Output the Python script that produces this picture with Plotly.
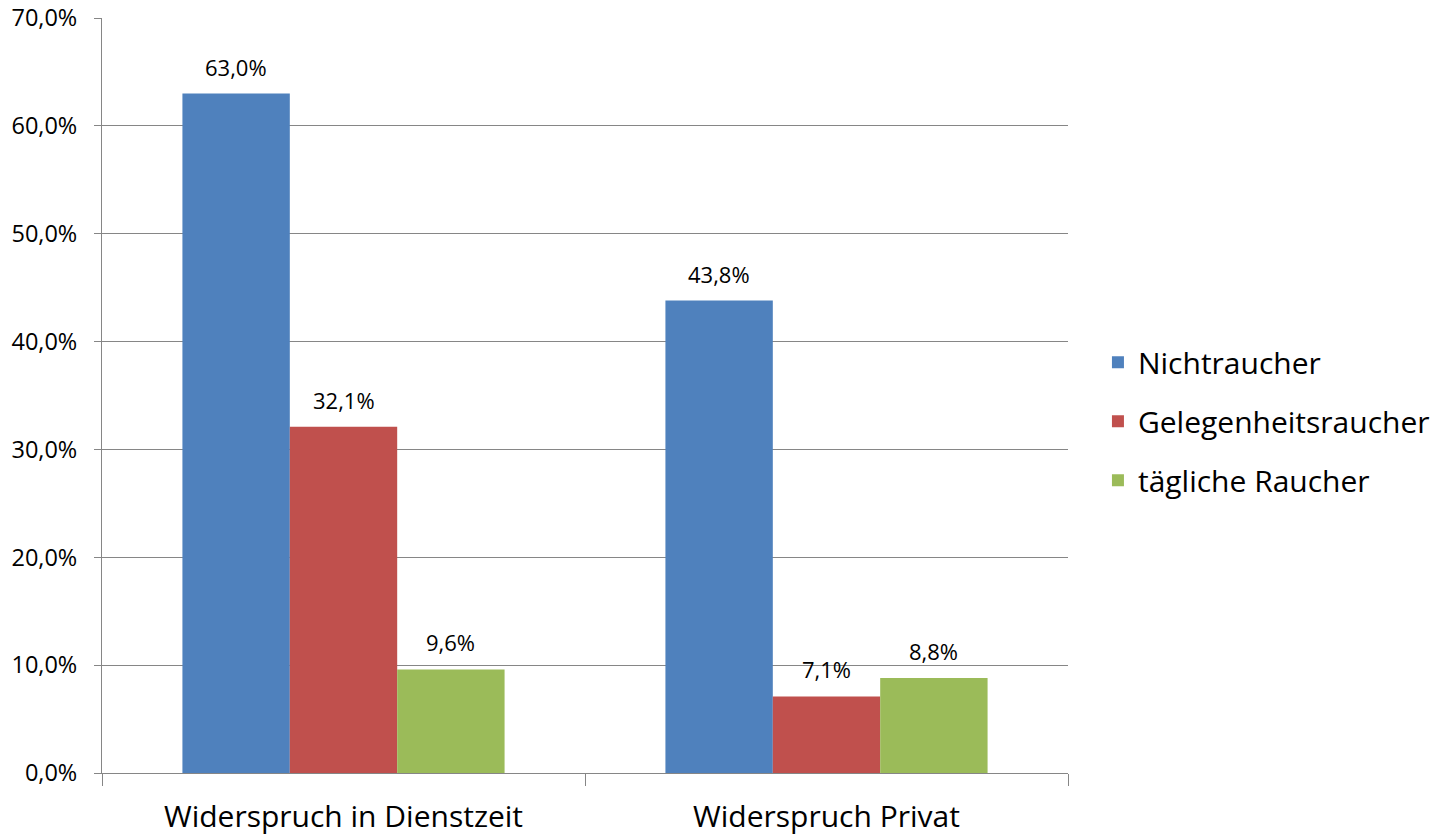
import plotly.graph_objects as go

categories = ["Widerspruch in Dienstzeit", "Widerspruch Privat"]
series_names = ["Nichtraucher", "Gelegenheitsraucher", "tägliche Raucher"]
nichtraucher = [63.0, 43.8]
gelegenheitsraucher = [32.1, 7.1]
taegliche_raucher = [9.6, 8.8]
y_ticks = [0, 10, 20, 30, 40, 50, 60, 70]
y_tick_labels = ["0,0%", "10,0%", "20,0%", "30,0%", "40,0%", "50,0%", "60,0%", "70,0%"]

colors = ["#4F81BD", "#C0504D", "#9BBB59"]
values = [nichtraucher, gelegenheitsraucher, taegliche_raucher]

FONT = "Open Sans"
BARGAP = 0.333
n_series = len(series_names)
bar_w = (1 - BARGAP) / n_series

fig = go.Figure()
for i, (name, vals) in enumerate(zip(series_names, values)):
    fig.add_trace(go.Bar(
        x=categories, y=vals, name=name,
        marker=dict(color=colors[i], line=dict(width=0)),
        legendgroup="g%d" % i,
    ))
    for j, v in enumerate(vals):
        fig.add_annotation(
            x=j + (i - (n_series - 1) / 2) * bar_w, y=v,
            xref="x", yref="y",
            text=("%.1f%%" % v).replace(".", ","),
            showarrow=False, yanchor="bottom", yshift=10,
            font=dict(family=FONT, size=22, color="#000000"),
        )

fig.update_layout(
    width=1440, height=836,
    paper_bgcolor="white", plot_bgcolor="white",
    margin=dict(l=102, r=372, t=18, b=63, autoexpand=False),
    barmode="group", bargap=BARGAP, bargroupgap=0,
    font=dict(family=FONT, color="#000000"),
    legend=dict(
        x=1.031, y=0.466, xanchor="left", yanchor="middle",
        font=dict(family=FONT, size=30, color="#000000"),
        traceorder="grouped", tracegroupgap=17,
        itemwidth=30,
    ),
    xaxis=dict(
        type="category", automargin=False,
        showline=True, linecolor="#868686", linewidth=1,
        ticks="outside", tickson="boundaries", ticklen=12, tickcolor="#868686",
        tickfont=dict(family=FONT, size=30, color="#000000"),
        ticklabelstandoff=17,
        showgrid=False,
    ),
    yaxis=dict(
        range=[0, 70], tickvals=y_ticks, ticktext=y_tick_labels,
        automargin=False,
        showline=True, linecolor="#868686", linewidth=1,
        ticks="outside", ticklen=7, tickcolor="#868686",
        showgrid=True, gridcolor="#868686", gridwidth=1,
        tickfont=dict(family=FONT, size=23.5, color="#000000"),
        ticklabelstandoff=12,
        zeroline=False,
    ),
)

fig.write_html("out.html", config={"displayModeBar": False},
               post_script="document.body.style.margin='0';")
